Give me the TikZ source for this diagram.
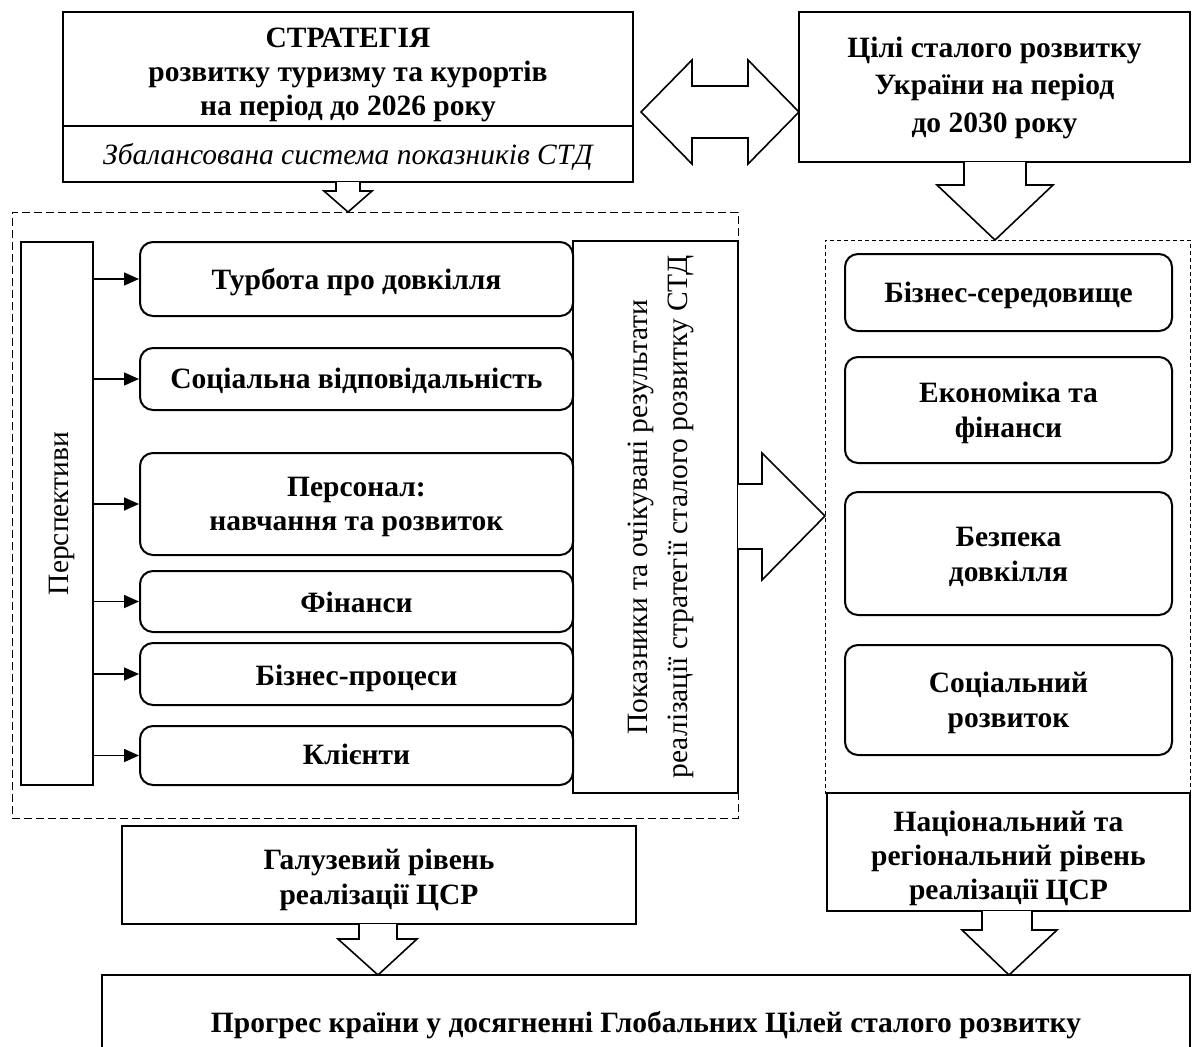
\documentclass[tikz,border=0pt]{standalone}
\usepackage{fontspec}
\setmainfont{Liberation Serif}
\usetikzlibrary{arrows.meta,calc}
\newcommand\bx[7]{\node[#2, minimum width={(#5)-(#3)}, minimum height={(#6)-(#4)}] (#1) at ({((#3)+(#5))/2},{((#4)+(#6))/2}) {#7};}
\newcommand\tx[2]{\raisebox{-#1pt}[\height][\depth]{\begin{tabular}{@{}c@{}}#2\end{tabular}}}
\tikzset{
  box/.style={draw, line width=2.3pt, inner sep=0pt, font=\bfseries\fontsize{29.5}{34}\selectfont},
  rbox/.style={box, rounded corners=13pt, line width=2pt},
  plain/.style={box, font=\fontsize{29.5}{40}\selectfont},
  ldash/.style={draw, line width=1pt, dash pattern=on 8pt off 4pt, inner sep=0pt},
  rdash/.style={draw, line width=1pt, dash pattern=on 4pt off 3pt, inner sep=0pt},
  barrow/.style={draw, line width=1.6pt, fill=white, line join=miter},
  parrow/.style={draw, line width=1.6pt, -{Triangle[length=15pt,width=13pt]}},
}
\begin{document}
\begin{tikzpicture}[x=1pt,y=-1pt]
\useasboundingbox[fill=white] (0,0) rectangle (1192,1047);
% dashed frames
\bx{lframe}{ldash}{12}{212}{738}{818}{}
\bx{rframe}{rdash}{825}{240}{1190}{793}{}
% top boxes
\bx{tl}{box}{63}{12}{633}{126}{\tx{6}{СТРАТЕГІЯ\\розвитку туризму та курортів\\на період до 2026 року}}
\bx{tlsub}{box, font=\itshape\fontsize{29.5}{34}\selectfont}{63}{126}{633}{182}{\tx{4}{Збалансована система показників СТД}}
\bx{tr}{box, font=\bfseries\fontsize{29.5}{37.5}\selectfont}{799}{12}{1190}{162}{\tx{0}{Цілі сталого розвитку\\України на період\\до 2030 року}}
% left column
\node[plain, rotate=90, minimum width=543, minimum height=72] (persp) at (57,513.5) {\tx{3}{Перспективи}};
\bx{l1}{rbox}{140}{242}{573}{316}{\tx{4}{Турбота про довкілля}}
\bx{l2}{rbox}{140}{348}{573}{410}{\tx{3}{Соціальна відповідальність}}
\bx{l3}{rbox}{140}{453}{573}{555}{\tx{3}{Персонал:\\навчання та розвиток}}
\bx{l4}{rbox}{140}{571}{573}{632}{\tx{4}{Фінанси}}
\bx{l5}{rbox}{140}{643}{573}{705}{\tx{5}{Бізнес-процеси}}
\bx{l6}{rbox}{140}{726}{573}{785}{\tx{2}{Клієнти}}
\node[plain, rotate=90, minimum width=552, minimum height=165] (pokaz) at (655.5,517) {\tx{4}{Показники та очікувані результати\\реалізації стратегії сталого розвитку СТД}};
\foreach \n in {l1,l2,l3,l4,l5,l6}{\draw[parrow] (persp.south |- \n.west) -- (\n.west);}
% right column
\bx{r1}{rbox}{845}{254}{1172}{331}{\tx{3}{Бізнес-середовище}}
\bx{r2}{rbox, font=\bfseries\fontsize{29.5}{35}\selectfont}{845}{357}{1172}{463}{\tx{3}{Економіка та\\фінанси}}
\bx{r3}{rbox, font=\bfseries\fontsize{29.5}{35}\selectfont}{845}{492}{1172}{615}{\tx{3}{Безпека\\довкілля}}
\bx{r4}{rbox, font=\bfseries\fontsize{29.5}{35}\selectfont}{845}{645}{1172}{755}{\tx{3}{Соціальний\\розвиток}}
% bottom
\bx{gal}{box, font=\bfseries\fontsize{29.5}{35}\selectfont}{122}{826}{636}{924}{\tx{5}{Галузевий рівень\\реалізації ЦСР}}
\bx{nat}{box}{827}{793}{1190}{911}{\tx{7}{Національний та\\регіональний рівень\\реалізації ЦСР}}
\node[box, draw=none, minimum width=1086, minimum height=94] (prog) at (646,1023) {\tx{3}{Прогрес країни у досягненні Глобальних Цілей сталого розвитку}};
\draw[line width=2.3pt] (prog.west |- 0,1047) -- (prog.north west) -- (prog.north east) -- (prog.east |- 0,1047);
% block arrows
\draw[barrow] (336,182) -- (336,191) -- (324,191) -- (348,212) -- (372,191) -- (360,191) -- (360,182);
\draw[barrow] (641,112) -- (692,60) -- (692,86) -- (748,86) -- (748,60) -- (799,112) -- (748,164) -- (748,138) -- (692,138) -- (692,164) -- cycle;
\draw[barrow] (964,162) -- (964,185) -- (937,185) -- (995,240) -- (1053,185) -- (1026,185) -- (1026,162);
\draw[barrow] (738,484) -- (762,484) -- (762,453) -- (825,516) -- (762,580) -- (762,549) -- (738,549);
\draw[barrow] (359,924) -- (359,939) -- (338,939) -- (378,975) -- (417,939) -- (397,939) -- (397,924);
\draw[barrow] (982,911) -- (982,930) -- (962,930) -- (1009,975) -- (1057,930) -- (1032,930) -- (1032,911);
\end{tikzpicture}
\end{document}
